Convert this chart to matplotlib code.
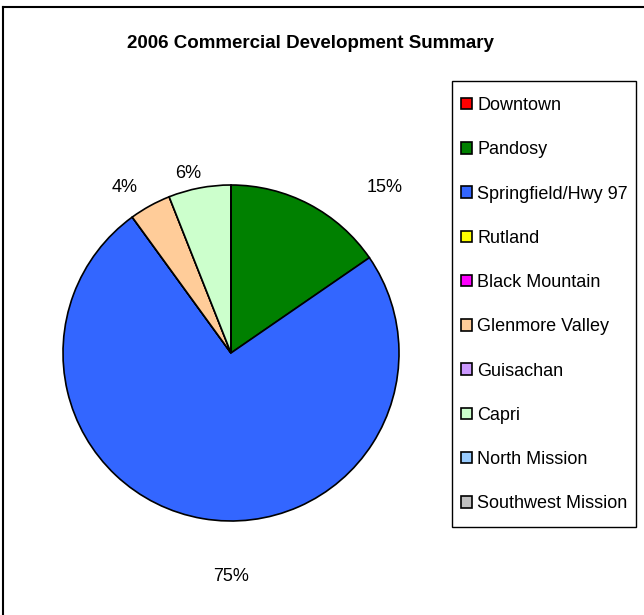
import numpy as np
import matplotlib; matplotlib.use('Agg')
import matplotlib.pyplot as plt
from matplotlib.lines import Line2D
from matplotlib.patches import Rectangle

plt.rcParams['font.family'] = ['Liberation Sans', 'DejaVu Sans']

# data
areas = ['Downtown', 'Pandosy', 'Springfield/Hwy 97', 'Rutland', 'Black Mountain',
         'Glenmore Valley', 'Guisachan', 'Capri', 'North Mission', 'Southwest Mission']
share = [0.0, 15.4, 74.6, 0.0, 0.0, 4.0, 0.0, 6.0, 0.0, 0.0]
colors = ['#FF0000', '#008000', '#3366FF', '#FFFF00', '#FF00FF',
          '#FFCC99', '#CC99FF', '#CCFFCC', '#99CCFF', '#C0C0C0']
# excel-ish label placement (angle deg, radius) per non-zero slice
lab_pos = {'Pandosy': (47, 1.345), 'Springfield/Hwy 97': (270, 1.33),
           'Glenmore Valley': (122.7, 1.17), 'Capri': (103.4, 1.10)}

W, H = 644, 615
fig = plt.figure(figsize=(W/100, H/100), dpi=100)

# frame lines (top + left only, image is cropped)
fig.add_artist(Line2D([3/W, 1], [1-7/H, 1-7/H], color='black', lw=1.5))
fig.add_artist(Line2D([3/W, 3/W], [0, 1-7/H], color='black', lw=1.5))

fig.text(310/W, 1-44/H, '2006 Commercial Development Summary', ha='center', va='center',
         fontsize=13.5, fontweight='bold')

cx, cy, r = 231, 353, 168
ax = fig.add_axes([(cx-r)/W, (H-cy-r)/H, 2*r/W, 2*r/H])
wedges, _ = ax.pie(share, colors=colors, startangle=90, counterclock=False,
                   wedgeprops=dict(edgecolor='black', linewidth=1.2))
ax.set_xlim(-1, 1); ax.set_ylim(-1, 1)
ax.set_aspect('equal'); ax.axis('off')

tot = sum(share)
for name, v in zip(areas, share):
    if v <= 0: continue
    a, d = lab_pos[name]
    ax.text(d*np.cos(np.radians(a)), d*np.sin(np.radians(a)), f'{v/tot*100:.0f}%',
            ha='center', va='center', fontsize=13, clip_on=False)

# legend box drawn separately so the padding can differ top/side
fig.add_artist(Rectangle((452/W, 1-527/H), 184/W, 446/H, transform=fig.transFigure,
                         facecolor='none', edgecolor='black', lw=1.0))
leg = fig.legend(wedges, areas, loc='upper left', bbox_to_anchor=(461/W, 1-97/H),
                 fontsize=13, frameon=False,
                 handlelength=0.6, handleheight=0.6, handletextpad=0.3,
                 labelspacing=1.51, borderpad=0, borderaxespad=0)

fig.savefig('out.png', dpi=100)
